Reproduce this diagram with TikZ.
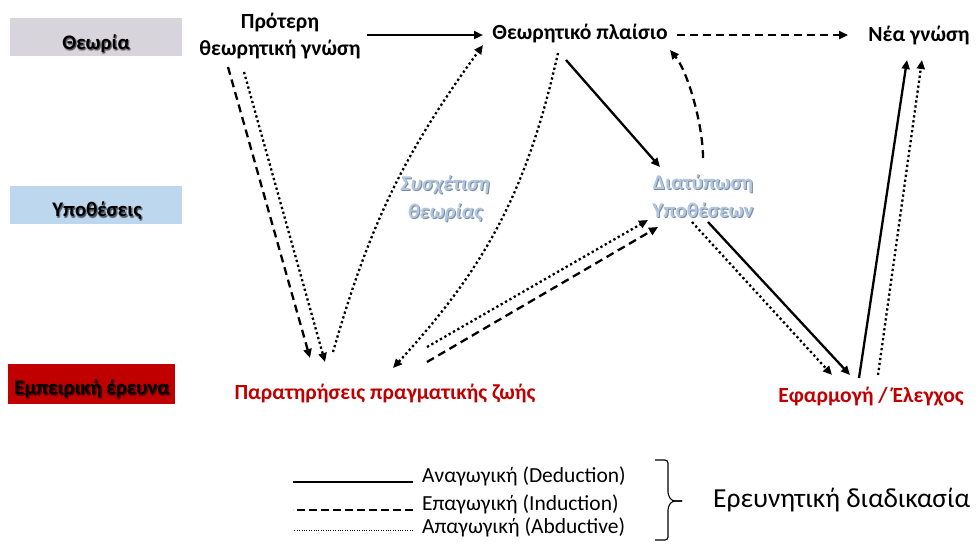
\documentclass[tikz,border=0pt]{standalone}
\usepackage{fontspec}
\setmainfont{Carlito}
\usetikzlibrary{arrows.meta,calc}

\definecolor{bandgray}{RGB}{216,212,220}
\definecolor{bandblue}{RGB}{189,215,238}
\definecolor{bandred}{RGB}{192,0,0}
\definecolor{textred}{RGB}{192,0,0}
\definecolor{paleblue}{RGB}{178,198,222}
\definecolor{paleedge}{RGB}{120,140,165}

\tikzset{
  bandbox/.style={draw=none, minimum width=172pt, minimum height=38pt, inner sep=0pt},
  bandlbl/.style={font=\fontsize{20.7}{24}\selectfont\bfseries, inner sep=0pt},
  lbl/.style={font=\fontsize{21.6}{27}\selectfont\bfseries, align=center, inner sep=0pt},
  palelbl/.style={font=\fontsize{21}{28}\selectfont\bfseries, align=center, inner sep=0pt},
  conn/.style={line width=2.3pt, -{Triangle[length=9pt,width=8pt]}},
  ded/.style={conn},
  ind/.style={conn, dash pattern=on 8pt off 5pt},
  abd/.style={conn, dash pattern=on 2.3pt off 2.7pt},
  legtxt/.style={font=\fontsize{21.5}{24}\selectfont, anchor=base west, inner sep=0pt},
}

\begin{document}
\begin{tikzpicture}[x=1pt,y=-1pt]
\useasboundingbox (0,0) rectangle (977,544);

% level bands on the left
\node[bandbox, fill=bandgray] (bandT) at (96,36.5) {};
\node[bandbox, fill=bandblue] (bandH) at (95.5,205) {};
\node[bandbox, fill=bandred, minimum width=167pt, minimum height=40pt] (bandE) at (91.5,383.5) {};
\foreach \dx/\dy in {1.2/1.2,0.6/1.6,1.6/0.6}{
  \node[bandlbl, text=black, opacity=0.25] at ([shift={(\dx,\dy)}]96,44) {Θεωρία};
  \node[bandlbl, text=black, opacity=0.25] at ([shift={(\dx,\dy)}]97,211) {Υποθέσεις};
  \node[bandlbl, text=black!60!bandred, opacity=0.6] at ([shift={(\dx,\dy)}]92,389) {Εμπειρική έρευνα};
}
\node[bandlbl] (tT) at (96,44) {Θεωρία};
\node[bandlbl] (tH) at (97,211) {Υποθέσεις};
\node[bandlbl] (tE) at (92,389) {Εμπειρική έρευνα};

% stages of the research process
\node[lbl] (prior) at (280,36) {Πρότερη\\θεωρητική γνώση};
\node[lbl] (frame) at (580,33) {Θεωρητικό πλαίσιο};
\node[lbl] (newk)  at (919,35) {Νέα γνώση};
\node[palelbl, text=paleedge, font=\fontsize{21}{28}\selectfont\bfseries\itshape] at (446,200) {Συσχέτιση\\θεωρίας};
\node[palelbl, text=paleblue, font=\fontsize{21}{28}\selectfont\bfseries\itshape] (corr) at (445,199) {Συσχέτιση\\θεωρίας};
\node[palelbl, text=paleedge] at (704,197) {Διατύπωση\\Υποθέσεων};
\node[palelbl, text=paleblue] (form) at (703,196) {Διατύπωση\\Υποθέσεων};
\node[lbl, text=textred] (obs) at (385,393) {Παρατηρήσεις πραγματικής ζωής};
\node[lbl, text=textred] (app) at (871,397) {Εφαρμογή / Έλεγχος};

% connectors
\draw[ded] ($(prior)+(87,-1)$) -- ($(frame)+(-97,2)$);
\draw[ind] ($(frame)+(97,2)$) -- ($(newk)+(-71,0)$);
\draw[ind] ($(prior)+(-52,31)$) -- ($(obs)+(-75,-35)$);
\draw[abd] ($(prior)+(-36,36)$) -- ($(obs)+(-60,-31)$);
\draw[abd] ($(obs)+(-52,-41)$) to[bend left=10] ($(frame)+(-97,12)$);
\draw[abd] ($(frame)+(-22,20)$) to[bend left=15] ($(obs)+(8,-25)$);
\draw[ded] ($(frame)+(-14,27)$) -- ($(form)+(-43,-29)$);
\draw[ind] ($(form)+(0,-38)$) .. controls ($(form)+(0,-71)$) and ($(form)+(-15,-124)$) .. ($(frame)+(90,17)$);
\draw[abd] ($(obs)+(42,-46)$) -- ($(form)+(-55,24)$);
\draw[ind] ($(obs)+(42,-31)$) -- ($(form)+(-45,31)$);
\draw[abd] ($(form)+(-11,26)$) -- ($(app)+(-39,-22)$);
\draw[ded] ($(form)+(5,26)$) -- ($(app)+(-21,-22)$);
\draw[ded] ($(app)+(-12,-19)$) -- ($(newk)+(-12,25)$);
\draw[abd] ($(app)+(7,-22)$) -- ($(newk)+(3,25)$);

% legend
\node[legtxt] (ld) at (422,482) {Αναγωγική (Deduction)};
\node[legtxt] (li) at (422,510) {Επαγωγική (Induction)};
\node[legtxt] (la) at (422,533) {Απαγωγική (Abductive)};
\draw[line width=2.4pt] ([xshift=-9pt]ld.base west) -- ++(-120,0);
\draw[line width=2.4pt, dash pattern=on 8.5pt off 3.5pt] ([xshift=-9pt]li.base west) -- ++(-120,0);
\draw[line width=1pt, dash pattern=on 1pt off 1.4pt] ([xshift=-9pt,yshift=3pt]la.base west) -- ++(-120,0);

\node[font=\fontsize{27.5}{32}\selectfont, anchor=base west, inner sep=0pt] (proc) at (713,507) {Ερευνητική διαδικασία};
\draw[line width=1.1pt, rounded corners=3pt]
  (655,460) -- (668,460) -- (668,495) -- (672,501) -- (682,501);
\draw[line width=1.1pt, rounded corners=3pt]
  (682,501) -- (672,501) -- (668,507) -- (668,540) -- (655,540);
\end{tikzpicture}
\end{document}
